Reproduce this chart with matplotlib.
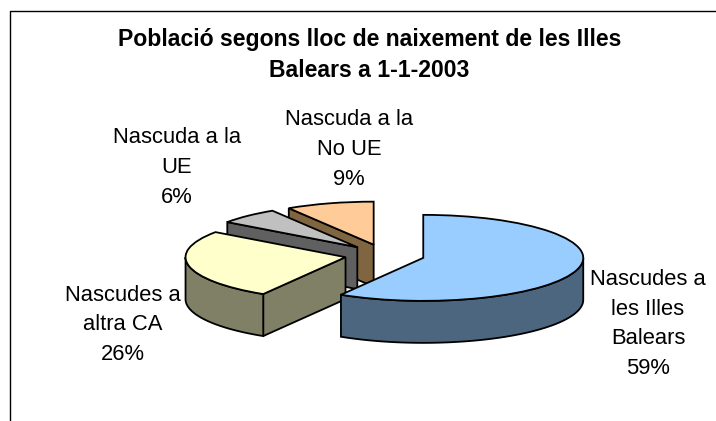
import numpy as np
import matplotlib
matplotlib.use("Agg")
import matplotlib.pyplot as plt
from matplotlib.patches import Polygon

plt.rcParams["font.family"] = ["Liberation Sans", "DejaVu Sans"]

title = "Població segons lloc de naixement de les Illes\nBalears a 1-1-2003"
names = ["Nascudes a\nles Illes\nBalears", "Nascudes a\naltra CA", "Nascuda a la\nUE", "Nascuda a la\nNo UE"]
values = [58.6, 26.3, 6.2, 8.9]
top_colors = ["#99CCFF", "#FFFFCC", "#C0C0C0", "#FFCC99"]
side_colors = ["#4D6680", "#808066", "#606060", "#806640"]
label_x = [648, 123, 177, 349]
label_y = [324, 325, 167.5, 149.5]

W, H = 716, 421
# pie centre and radii in pixels, squashed ellipse for the tilt
cx, cy, rx, ry = 384.7, 255, 160, 43
depth = 42 / ry

fig = plt.figure(figsize=(W / 100, H / 100), dpi=100)
ax = fig.add_axes([0, 0, 1, 1])
wedges, _ = ax.pie(values, explode=[0.25] * 4, startangle=90, counterclock=False,
                   colors=top_colors, wedgeprops={"edgecolor": "black", "linewidth": 1.3})
ax.set_aspect("auto")
ax.set_xlim(-cx / rx, (W - cx) / rx)
ax.set_ylim(-(H - cy) / ry, cy / ry)
ax.axis("off")


def arc_wall(w, a, b):
    t = np.radians(np.linspace(a, b, 60))
    x = w.center[0] + np.cos(t)
    y = w.center[1] + np.sin(t)
    return np.r_[np.c_[x, y], np.c_[x, y - depth][::-1]]


# back slices first, the big blue one has to end up on top
for i in [3, 2, 1, 0]:
    w = wedges[i]
    z = 10 + (3 - i) * 2
    a, b = w.theta1, w.theta2
    walls = []
    # radial wall on the ccw end
    if np.cos(np.radians(b)) < -1e-6:
        ex = w.center[0] + np.cos(np.radians(b))
        ey = w.center[1] + np.sin(np.radians(b))
        walls.append([(w.center[0], w.center[1]), (ex, ey), (ex, ey - depth), (w.center[0], w.center[1] - depth)])
    # outer wall, only the part on the front half
    for lo, hi in [(-180, 0), (180, 360)]:
        s, e = max(a, lo), min(b, hi)
        if e > s:
            walls.append(arc_wall(w, s, e))
    for pts in walls:
        ax.add_patch(Polygon(pts, closed=True, facecolor=side_colors[i], edgecolor="black",
                             linewidth=1.3, zorder=z))
    w.set_zorder(z + 1)

# chart area border, only left and top show
fig.add_artist(plt.Line2D([9.5 / W, 9.5 / W, 1], [0, 1 - 11 / H, 1 - 11 / H], color="black", linewidth=1))

fig.text(369.5 / W, 1 - 55 / H, title, ha="center", va="center", fontsize=16.6, fontweight="bold",
         linespacing=1.49, color="black")
for name, v, lx, ly in zip(names, values, label_x, label_y):
    fig.text(lx / W, 1 - ly / H, name + "\n" + str(int(round(v))) + "%", ha="center", va="center",
             fontsize=15.8, linespacing=1.56, color="black")

fig.savefig("out.png", dpi=100, facecolor="white")
